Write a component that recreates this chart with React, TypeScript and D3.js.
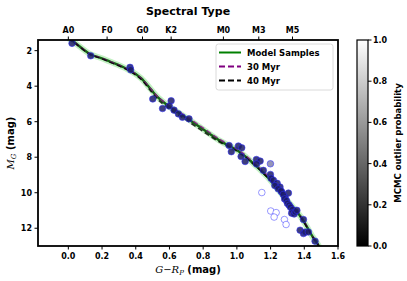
import React from "react";
import * as d3 from "d3";

// G - RP colour and absolute G magnitude
const xTicks = [0.0, 0.2, 0.4, 0.6, 0.8, 1.0, 1.2, 1.4, 1.6];
const yTicks = [2, 4, 6, 8, 10, 12];
const spectralTypes = ["A0", "F0", "G0", "K2", "M0", "M3", "M5"];
const spectralColors = [0.0, 0.23, 0.44, 0.61, 0.92, 1.13, 1.33];
const probTicks = [0.0, 0.2, 0.4, 0.6, 0.8, 1.0];

const modelColor = [0.0, 0.03, 0.13, 0.19, 0.25, 0.31, 0.37, 0.43, 0.49, 0.53, 0.59, 0.68, 0.78, 0.9, 1.0, 1.08, 1.18, 1.28, 1.38, 1.45, 1.48, 1.5];
const modelMag = [1.3, 1.49, 2.2, 2.4, 2.63, 2.86, 3.14, 3.54, 4.18, 4.62, 5.09, 5.65, 6.3, 7.08, 7.6, 8.2, 9.1, 10.24, 11.37, 12.49, 12.9, 13.3];

const myr30Color = [0.0, 0.03, 0.13, 0.19, 0.25, 0.31, 0.37, 0.43, 0.49, 0.53, 0.59, 0.68, 0.78, 0.9, 1.0, 1.08, 1.18, 1.28, 1.38, 1.45, 1.48, 1.5];
const myr30Mag = [1.3, 1.49, 2.2, 2.4, 2.63, 2.86, 3.14, 3.54, 4.16, 4.58, 5.04, 5.58, 6.22, 7.0, 7.53, 8.12, 9.02, 10.18, 11.34, 12.48, 12.9, 13.3];

const myr40Color = [0.0, 0.03, 0.13, 0.19, 0.25, 0.31, 0.37, 0.43, 0.49, 0.53, 0.59, 0.68, 0.78, 0.9, 1.0, 1.08, 1.18, 1.28, 1.38, 1.45, 1.48, 1.5];
const myr40Mag = [1.3, 1.5, 2.22, 2.42, 2.66, 2.9, 3.18, 3.6, 4.28, 4.74, 5.22, 5.78, 6.42, 7.16, 7.66, 8.24, 9.13, 10.26, 11.39, 12.5, 12.9, 13.3];

const starColor = [0.022, 0.133, 0.366, 0.37, 0.501, 0.559, 0.61, 0.599, 0.627, 0.653, 0.677, 0.716,
  0.954, 1.009, 1.029, 0.967, 1.025, 1.049, 1.116, 1.138, 1.117, 1.157, 1.199, 1.199, 1.203, 1.217,
  1.239, 1.256, 1.266, 1.306, 1.286, 1.225, 1.245, 1.262, 1.275, 1.283, 1.295, 1.3, 1.31, 1.318,
  1.33, 1.325, 1.34, 1.346, 1.356, 1.395, 1.375, 1.395, 1.405, 1.424, 1.464, 1.148, 1.201, 1.233,
  1.221, 1.282, 1.292];
const starMag = [1.59, 2.29, 2.94, 3.08, 4.72, 5.26, 4.82, 5.12, 5.35, 5.56, 5.75, 5.84,
  7.34, 7.37, 7.47, 7.69, 7.96, 8.24, 8.13, 8.22, 8.38, 8.74, 8.37, 8.97, 9.19, 9.3,
  9.47, 9.68, 9.96, 10.02, 10.26, 9.6, 9.78, 9.9, 10.1, 10.35, 10.45, 10.6, 10.7, 10.82,
  10.95, 11.15, 11.2, 11.08, 10.99, 11.51, 12.11, 12.3, 12.22, 12.21, 12.73, 9.99, 11.03, 11.12,
  11.37, 11.51, 11.79];
const starProb = [0.0, 0.0, 0.0, 0.0, 0.0, 0.0, 0.0, 0.0, 0.0, 0.0, 0.0, 0.0,
  0.0, 0.0, 0.0, 0.0, 0.0, 0.0, 0.0, 0.0, 0.0, 0.0, 0.45, 0.0, 0.0, 0.0,
  0.0, 0.0, 0.0, 0.0, 0.0, 0.0, 0.0, 0.0, 0.0, 0.0, 0.0, 0.0, 0.0, 0.0,
  0.0, 0.0, 0.0, 0.0, 0.0, 0.0, 0.0, 0.0, 0.0, 0.0, 0.0, 1.0, 1.0, 1.0,
  1.0, 1.0, 1.0];

const W = 407;
const H = 281;
const margin = { top: 40, right: 69, bottom: 35, left: 38 };
const bold = "DejaVu Sans, sans-serif";

export default function App() {
  const x = d3.scaleLinear().domain([-0.18, 1.6]).range([margin.left, W - margin.right]);
  const y = d3.scaleLinear().domain([1.4, 13]).range([margin.top, H - margin.bottom]);
  const cb = d3.scaleLinear().domain([0, 1]).range([H - margin.bottom, margin.top]);
  const fillOf = d3.scaleLinear<string>().domain([0, 1]).range(["#1c1c66", "#ffffff"]);

  const line = (xs: number[], ys: number[]) =>
    d3.line<number>().x((_, i) => x(xs[i])).y((_, i) => y(ys[i])).curve(d3.curveCatmullRom)(xs.map((_, i) => i)) || "";

  const [x0, x1] = x.range();
  const [yTop, yBot] = [margin.top, H - margin.bottom];
  const cx0 = 357, cx1 = 368;

  return (
    <svg width={W} height={H} style={{ position: "absolute", left: 0, top: 0, background: "#fff" }}
      fontFamily={bold} fontWeight="bold">
      <defs>
        <clipPath id="plot"><rect x={x0} y={yTop} width={x1 - x0} height={yBot - yTop} /></clipPath>
        <linearGradient id="gray" x1="0" y1="1" x2="0" y2="0">
          <stop offset="0" stopColor="#000" />
          <stop offset="1" stopColor="#fff" />
        </linearGradient>
      </defs>

      <text x={(x0 + x1) / 2} y={15} textAnchor="middle" fontSize={11}>Spectral Type</text>

      <g clipPath="url(#plot)">
        <path d={line(modelColor, modelMag)} fill="none" stroke="#7be07b" strokeOpacity={0.45} strokeWidth={6} />
        <path d={line(modelColor, modelMag)} fill="none" stroke="#146414" strokeWidth={2.4} />
        <path d={line(myr30Color, myr30Mag)} fill="none" stroke="#8b1a8b" strokeWidth={1.6} strokeDasharray="5,3" strokeOpacity={0.8} />
        <path d={line(myr40Color, myr40Mag)} fill="none" stroke="#000" strokeWidth={1.6} strokeDasharray="5,3" strokeOpacity={0.8} />
        {starColor.map((c, i) => (
          <circle key={i} cx={x(c)} cy={y(starMag[i])} r={3.3}
            fill={fillOf(starProb[i])} fillOpacity={starProb[i] > 0.9 ? 1 : 0.85}
            stroke="#3030ff" strokeOpacity={starProb[i] > 0.9 ? 0.55 : 0.6} strokeWidth={0.9} />
        ))}
      </g>

      <rect x={x0} y={yTop} width={x1 - x0} height={yBot - yTop} fill="none" stroke="#000" strokeWidth={1.8} />

      {xTicks.map(t => (
        <g key={t}>
          <line x1={x(t)} x2={x(t)} y1={yBot} y2={yBot + 3.5} stroke="#000" strokeWidth={1} />
          <text x={x(t)} y={yBot + 13} textAnchor="middle" fontSize={8}>{t.toFixed(1)}</text>
        </g>
      ))}
      {yTicks.map(t => (
        <g key={t}>
          <line x1={x0 - 3.5} x2={x0} y1={y(t)} y2={y(t)} stroke="#000" strokeWidth={1} />
          <text x={x0 - 6} y={y(t) + 3} textAnchor="end" fontSize={8}>{t}</text>
        </g>
      ))}
      {spectralTypes.map((s, i) => (
        <g key={s}>
          <line x1={x(spectralColors[i])} x2={x(spectralColors[i])} y1={yTop - 3.5} y2={yTop} stroke="#000" strokeWidth={1} />
          <text x={x(spectralColors[i])} y={yTop - 7} textAnchor="middle" fontSize={8}>{s}</text>
        </g>
      ))}

      <text x={(x0 + x1) / 2} y={273} textAnchor="middle" fontSize={10}>
        <tspan fontFamily="DejaVu Serif, serif" fontStyle="italic" fontWeight="normal">G</tspan>
        <tspan fontFamily="DejaVu Serif, serif" fontWeight="normal">−</tspan>
        <tspan fontFamily="DejaVu Serif, serif" fontStyle="italic" fontWeight="normal">R</tspan>
        <tspan fontFamily="DejaVu Serif, serif" fontStyle="italic" fontWeight="normal" fontSize={7} dy={2}>P</tspan>
        <tspan dy={-2}> (mag)</tspan>
      </text>
      <text transform={`translate(14,${(yTop + yBot) / 2}) rotate(-90)`} textAnchor="middle" fontSize={10}>
        <tspan fontFamily="DejaVu Serif, serif" fontStyle="italic" fontWeight="normal">M</tspan>
        <tspan fontFamily="DejaVu Serif, serif" fontStyle="italic" fontWeight="normal" fontSize={7} dy={2}>G</tspan>
        <tspan dy={-2}> (mag)</tspan>
      </text>

      <g>
        <rect x={216} y={44} width={117} height={46} rx={2.5} fill="#fff" fillOpacity={0.8} stroke="#d0d0d0" strokeWidth={0.8} />
        <line x1={219} x2={241} y1={52.5} y2={52.5} stroke="#008000" strokeWidth={2} />
        <text x={247} y={56} fontSize={8.5}>Model Samples</text>
        <line x1={219} x2={241} y1={66.5} y2={66.5} stroke="#800080" strokeWidth={2} strokeDasharray="6,3" />
        <text x={247} y={70} fontSize={8.5}>30 Myr</text>
        <line x1={219} x2={241} y1={80.5} y2={80.5} stroke="#000" strokeWidth={2} strokeDasharray="6,3" />
        <text x={247} y={84} fontSize={8.5}>40 Myr</text>
      </g>

      <rect x={cx0} y={cb(1)} width={cx1 - cx0} height={cb(0) - cb(1)} fill="url(#gray)" stroke="#000" strokeWidth={1.2} />
      {probTicks.map(t => (
        <g key={t}>
          <line x1={cx1} x2={cx1 + 3.5} y1={cb(t)} y2={cb(t)} stroke="#000" strokeWidth={1} />
          <text x={cx1 + 5} y={cb(t) + 3} fontSize={8}>{t.toFixed(1)}</text>
        </g>
      ))}
      <text transform={`translate(401,${(yTop + yBot) / 2}) rotate(-90)`} textAnchor="middle" fontSize={8.5}>MCMC outlier probability</text>
    </svg>
  );
}
